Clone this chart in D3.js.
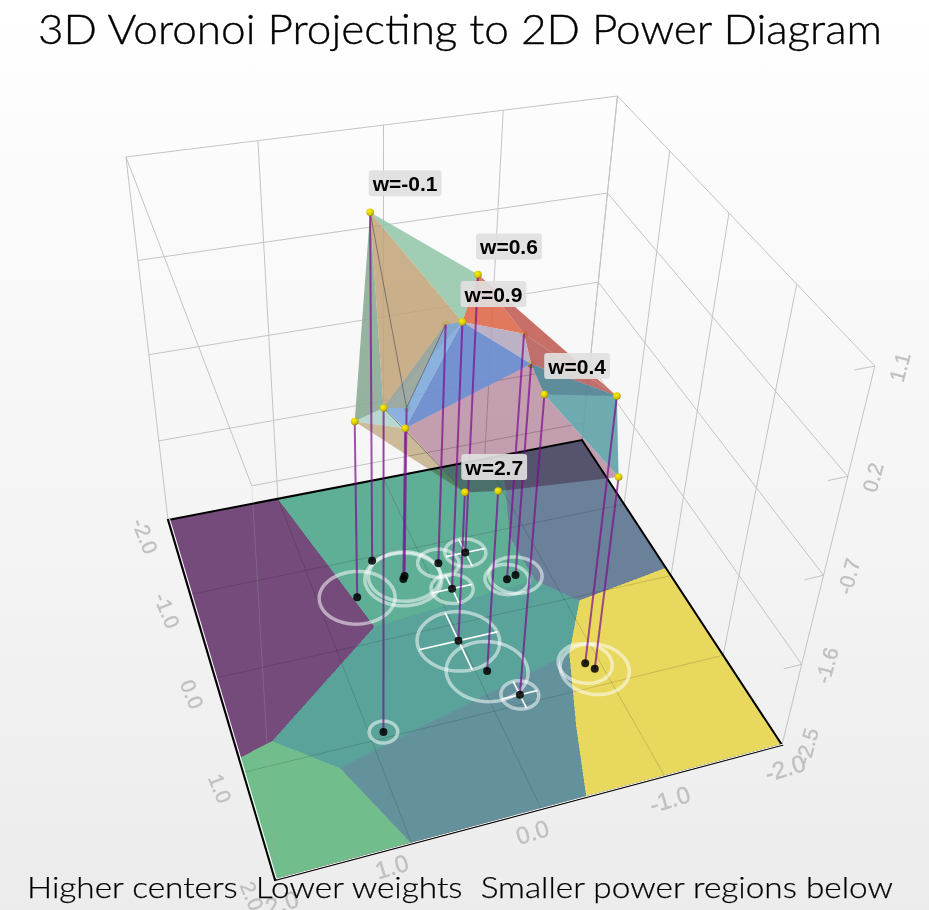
<!DOCTYPE html>
<html>
<head>
<meta charset="utf-8">
<script src="https://cdnjs.cloudflare.com/ajax/libs/d3/7.8.5/d3.min.js"></script>
<style>
    html, body { margin: 0; padding: 0; background: white; }
    svg { display: block; }
</style>
</head>
<body>
<svg id="chart" width="929" height="910"></svg>
<script>
//site positions, one entry per power cell
const siteX = [0.42, 0.67, 0.89, 0.21, 0.23, -0.12, -0.13, -0.39, -0.62, -0.71, -0.25, 0.02, -0.09, -0.88, -0.93];
const siteY = [-0.95, -0.55, 0.94, -0.68, -0.65, -0.75, -0.41, -0.81, -0.38, -0.41, 0.90, 0.19, 0.58, 0.74, 0.82];
const siteZ = [0.96, -0.62, 0.63, -0.68, -0.86, 0.0, 0.24, 0.37, 0.06, -0.26, 0.47, -0.90, -0.60, 0.21, -0.48];
const ringRadius = [0, 0.32, 0.11, 0.31, 0.33, 0.18, 0.18, 0.18, 0.19, 0.23, 0.15, 0.34, 0.33, 0.22, 0.28];
const crossSites = [6, 7, 10, 11];
const behindSites = [3, 5, 8, 9]; //spheres seen through the faces

const labelSites = [0, 7, 6, 9, 12];
const labelTexts = ["w=-0.1", "w=0.6", "w=0.9", "w=0.4", "w=2.7"];

//floor regions in data coordinates [x, y]
const regionCoords = [
    [[2, -2], [1.0, -2], [0.63, -0.17], [1.72, 0.77], [2, 0.86]],
    [[2, 0.86], [1.72, 0.77], [1.30, 1.18], [1.0, 2], [2, 2]],
    [[1.0, -2], [-1.18, -2], [-0.84, -0.89], [-0.85, -0.30], [0.63, -0.17]],
    [[0.63, -0.17], [-0.85, -0.30], [-1.12, 0.05], [-0.8, 0.6], [1.30, 1.18], [1.72, 0.77]],
    [[1.30, 1.18], [-0.8, 0.6], [-0.55, 1.35], [-0.36, 2], [1.0, 2]],
    [[-1.18, -2], [-2, -2], [-2, -0.1], [-1.12, 0.05], [-0.85, -0.30], [-0.84, -0.89]],
    [[-2, -0.1], [-2, 2], [-0.36, 2], [-0.55, 1.35], [-0.8, 0.6], [-1.12, 0.05]]
];
const regionColors = ["#754b7c", "#72bd8c", "#5fae96", "#5aa39a", "#63929d", "#6b8199", "#e8d85e"];

//polyhedron faces as indices into the site arrays
const faces = [
    [0, 1, 2], [0, 7, 6], [7, 6, 8], [7, 8, 13], [8, 13, 9], [0, 6, 2], [1, 4, 11],
    [1, 2, 4], [6, 5, 2, 4], [2, 5, 3], [6, 8, 9], [6, 4, 9], [4, 9, 10, 14, 12, 11], [9, 13, 14, 10], [9, 13, 10]
];
const faceColors = [
    "#8aab94", "#96c8ab", "#de6a4e", "#c25f58", "#b8605c", "#c2a278", "#cdb68e",
    "#a8cfc8", "#78a6da", "#a3a88f", "#b0a6bc", "#6d8ccc", "#c49aae", "#62a2aa", "#4c7488"
];
const faceOpacity = [0.9, 0.9, 0.9, 0.9, 0.9, 0.85, 0.85, 0.8, 0.85, 0.75, 0.85, 0.95, 0.9, 0.9, 0.55];
const multiplyFaces = [6, 12];
const thinEdges = [[0, 3], [3, 5], [2, 11]];

const xTicks = [2, 1, 0, -1, -2];
const yTicks = [-2, -1, 0, 1, 2];
const zTicks = [-2.5, -1.6, -0.7, 0.2, 1.1];

const titleText = "3D Voronoi Projecting to 2D Power Diagram";
const footerText = "Higher centers  Lower weights  Smaller power regions below";

const xMin = -2, xMax = 2, yMin = -2, yMax = 2, zMin = -2.5, zMax = 1.1;

//box coordinates 0..1 along each axis
const xBox = d3.scaleLinear().domain([xMax, xMin]).range([0, 1]);
const yBox = d3.scaleLinear().domain([yMin, yMax]).range([0, 1]);
const zBox = d3.scaleLinear().domain([zMin, zMax]).range([0, 1]);

//camera matrix fitted to the plot box
const camera = [
    [463.12, 47.4, -62.63, 168],
    [-42.86, 169.28, -388.7, 520],
    [0.0844, -0.2167, -0.1637, 1]
];

function project(x, y, z) {
    const p = [xBox(x), yBox(y), zBox(z), 1];
    const w = d3.sum(camera[2], (c, i) => c * p[i]);
    return [d3.sum(camera[0], (c, i) => c * p[i]) / w, d3.sum(camera[1], (c, i) => c * p[i]) / w];
}

function topPoint(i) {
    return project(siteX[i], siteY[i], siteZ[i]);
}
function basePoint(i) {
    return project(siteX[i], siteY[i], zMin);
}

const svg = d3.select("#chart");
const defs = svg.append("defs");

const bg = defs.append("linearGradient").attr("id", "bg").attr("x1", 0).attr("y1", 0).attr("x2", 0).attr("y2", 1);
bg.append("stop").attr("offset", "0%").attr("stop-color", "#ffffff");
bg.append("stop").attr("offset", "100%").attr("stop-color", "#ececec");

const ball = defs.append("radialGradient").attr("id", "ball").attr("cx", "40%").attr("cy", "35%").attr("r", "70%");
ball.append("stop").attr("offset", "0%").attr("stop-color", "#fff200");
ball.append("stop").attr("offset", "70%").attr("stop-color", "#cfc000");
ball.append("stop").attr("offset", "100%").attr("stop-color", "#807400");

defs.append("filter").attr("id", "soft")
    .append("feGaussianBlur").attr("stdDeviation", 0.4);

svg.append("rect").attr("width", 929).attr("height", 910).attr("fill", "url(#bg)");

const line = d3.line();
const polyPath = pts => line(pts) + "Z";

//back walls
const grid = svg.append("g").attr("fill", "none").attr("stroke", "#c4c4c4").attr("stroke-width", 1);
function seg(target, a, b) {
    return target.append("path").attr("d", line([a, b]));
}
xTicks.forEach(x => seg(grid, project(x, yMin, zMin), project(x, yMin, zMax)));
yTicks.forEach(y => seg(grid, project(xMin, y, zMin), project(xMin, y, zMax)));
zTicks.slice(1).forEach(z => {
    seg(grid, project(xMax, yMin, z), project(xMin, yMin, z));
    seg(grid, project(xMin, yMin, z), project(xMin, yMax, z));
    seg(grid, project(xMin, yMax, z), project(xMin + 0.15, yMax, z));
});

//stray frame lines behind the floor
const frameCorner = project(1.23, yMin, -2.29);
seg(grid, project(xMax, yMin, zMax), frameCorner);
seg(grid, frameCorner, project(xMin, yMin, -2.29));

//floor regions
const floor = svg.append("g");
floor.selectAll("path")
    .data(regionCoords)
    .enter()
    .append("path")
    .attr("d", d => polyPath(d.map(c => project(c[0], c[1], zMin))))
    .attr("fill", (d, i) => regionColors[i])
    .attr("stroke", (d, i) => regionColors[i])
    .attr("stroke-width", 0.5)
    .attr("shape-rendering", "crispEdges");

//floor grid
const floorGrid = svg.append("g").attr("fill", "none").attr("stroke", "#000").attr("stroke-opacity", 0.14);
[1, 0, -1].forEach(v => {
    seg(floorGrid, project(v, yMin, zMin), project(v, yMax, zMin));
    seg(floorGrid, project(xMin, v, zMin), project(xMax, v, zMin));
});
seg(floorGrid, frameCorner, project(xMax, yMax, zMin)).attr("stroke", "#aaa").attr("stroke-opacity", 0.25);

//floor outline
const outline = [[xMax, yMin], [xMin, yMin], [xMin, yMax], [xMax, yMax]].map(c => project(c[0], c[1], zMin));
svg.append("path").attr("d", polyPath(outline)).attr("fill", "none").attr("stroke", "#000").attr("stroke-width", 2);
svg.append("path").attr("d", line([outline[0], outline[3], outline[2]]))
    .attr("fill", "none").attr("stroke", "#fff").attr("stroke-width", 1)
    .attr("transform", "translate(1.6,-1)");

//white rings on the floor
const ringAngles = d3.range(0, 361, 6).map(a => a * Math.PI / 180);
svg.append("g")
    .attr("filter", "url(#soft)")
    .selectAll("path")
    .data(siteX.map((d, i) => i).filter(i => ringRadius[i] > 0))
    .enter()
    .append("path")
    .attr("d", i => line(ringAngles.map(a => project(siteX[i] + ringRadius[i] * Math.cos(a), siteY[i] + ringRadius[i] * Math.sin(a), zMin))))
    .attr("fill", "none")
    .attr("stroke", "#fff")
    .attr("stroke-opacity", 0.52)
    .attr("stroke-width", 3.5);

//crosshairs
const cross = svg.append("g").attr("stroke", "#fff").attr("stroke-width", 1.6);
crossSites.forEach(i => {
    const r = ringRadius[i];
    seg(cross, project(siteX[i] - r, siteY[i], zMin), project(siteX[i] + r, siteY[i], zMin));
    seg(cross, project(siteX[i], siteY[i] - r, zMin), project(siteX[i], siteY[i] + r, zMin));
});

function drawSpheres(ids) {
    svg.append("g").selectAll("circle")
        .data(ids)
        .enter()
        .append("circle")
        .attr("cx", i => topPoint(i)[0])
        .attr("cy", i => topPoint(i)[1])
        .attr("r", 3.8)
        .attr("fill", "url(#ball)");
}

//spheres behind the faces
drawSpheres(behindSites);

//polyhedron faces
svg.append("g").selectAll("path")
    .data(faces)
    .enter()
    .append("path")
    .attr("d", d => polyPath(d.map(topPoint)))
    .attr("fill", (d, i) => faceColors[i])
    .attr("fill-opacity", (d, i) => faceOpacity[i])
    .style("mix-blend-mode", (d, i) => multiplyFaces.includes(i) ? "multiply" : "normal");

const edges = svg.append("g").attr("stroke", "#4a4a5a").attr("stroke-opacity", 0.6).attr("stroke-width", 1);
thinEdges.forEach(e => seg(edges, topPoint(e[0]), topPoint(e[1])));

//vertical connectors
svg.append("g").selectAll("path")
    .data(siteX.map((d, i) => i))
    .enter()
    .append("path")
    .attr("d", i => line([topPoint(i), basePoint(i)]))
    .attr("stroke", "#7c0a8c")
    .attr("stroke-opacity", 0.7)
    .attr("stroke-width", 2);

//base points
svg.append("g").selectAll("circle")
    .data(siteX.map((d, i) => i))
    .enter()
    .append("circle")
    .attr("cx", i => basePoint(i)[0])
    .attr("cy", i => basePoint(i)[1])
    .attr("r", 4)
    .attr("fill", "#000")
    .attr("fill-opacity", 0.85);

//top spheres in front
drawSpheres(siteX.map((d, i) => i).filter(i => !behindSites.includes(i)));

//axis labels
const axisText = svg.append("g")
    .attr("fill", "#c0c0c0")
    .attr("stroke", "#c0c0c0")
    .attr("stroke-width", 0.4)
    .attr("font-family", "'Liberation Sans', Arial, sans-serif")
    .attr("text-anchor", "middle")
    .attr("dominant-baseline", "central");

function tickLabel(p, dx, dy, angle, size, value) {
    axisText.append("text")
        .attr("transform", `translate(${p[0] + dx},${p[1] + dy}) rotate(${angle})`)
        .attr("font-size", size)
        .text(value.toFixed(1));
}
yTicks.forEach(y => tickLabel(project(xMax, y, zMin), -23, 16, 68, 21, y));
const xLabelShift = d3.scaleOrdinal().domain(xTicks).range([7, -20, -9, 5, 3]);
xTicks.forEach(x => tickLabel(project(x, yMax, zMin), xLabelShift(x), 23, -17, 24, x));
zTicks.forEach(z => tickLabel(project(xMin, yMax, z), 25, 1, -75, 21, z));

//weight labels
const labelOffsets = [[35, -29], [31, -28], [31, -28], [46, 2], [-4, -24]];
const tags = svg.append("g").selectAll("g")
    .data(labelSites)
    .enter()
    .append("g")
    .attr("transform", (d, i) => {
        const p = topPoint(d);
        return `translate(${p[0] + labelOffsets[i][0]},${p[1] + labelOffsets[i][1]})`;
    });
tags.append("rect")
    .attr("fill", "#e0e0e0")
    .attr("fill-opacity", 0.92)
    .attr("rx", 3);
tags.append("text")
    .attr("text-anchor", "middle")
    .attr("dominant-baseline", "central")
    .attr("font-family", "'Liberation Sans', Arial, sans-serif")
    .attr("font-size", 21)
    .attr("font-weight", "bold")
    .attr("fill", "#000")
    .text((d, i) => labelTexts[i]);
tags.each(function () {
    const g = d3.select(this);
    const w = g.select("text").node().getComputedTextLength() + 8;
    g.select("rect").attr("x", -w / 2).attr("y", -13).attr("width", w).attr("height", 26);
});

//title and footer
svg.append("text")
    .attr("x", 38).attr("y", 44)
    .attr("textLength", 844)
    .attr("lengthAdjust", "spacingAndGlyphs")
    .attr("font-family", "Lato, sans-serif")
    .attr("font-weight", 300)
    .attr("font-size", 42)
    .attr("fill", "#000")
    .attr("stroke", "#000")
    .attr("stroke-width", 0.35)
    .text(titleText);

svg.append("text")
    .attr("x", 27).attr("y", 898)
    .attr("textLength", 866)
    .attr("lengthAdjust", "spacingAndGlyphs")
    .style("white-space", "pre")
    .attr("font-family", "Lato, sans-serif")
    .attr("font-weight", 300)
    .attr("font-size", 30)
    .attr("fill", "#000")
    .attr("stroke", "#000")
    .attr("stroke-width", 0.25)
    .text(footerText);
</script>
</body>
</html>
